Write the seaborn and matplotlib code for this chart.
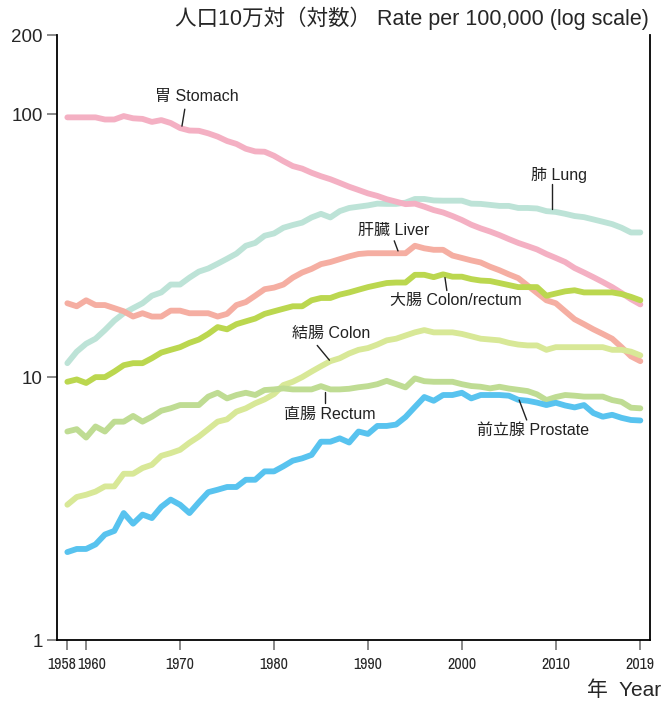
import numpy as np
import pandas as pd
import seaborn as sns
import matplotlib.pyplot as plt
from matplotlib import font_manager

years = list(range(1958, 2020))

stomach = [97.3, 97.3, 97.3, 97.3, 95.5, 95.5, 98.4, 96.5, 96.0, 93.5, 95.0, 92.6,
           88.6, 86.7, 86.5, 84.6, 82.2, 79.1, 77.1, 73.9, 72.2, 72.0,
           69.5, 66.3, 63.5, 62.1, 59.9, 58.1, 56.6, 54.8, 53.0, 51.5,
           50.0, 48.9, 47.5, 46.5, 45.5, 45.7, 44.5, 43.2, 42.3, 41.0,
           39.6, 38.0, 36.8, 35.8, 34.7, 33.5, 32.4, 31.5, 30.6, 29.4,
           28.4, 27.4, 26.0, 25.0, 24.0, 23.0, 22.0, 20.9, 19.8, 18.9]
lung = [11.3, 12.5, 13.4, 14.0, 15.1, 16.4, 17.5, 18.3, 19.1, 20.4, 21.0, 22.5,
        22.5, 23.9, 25.2, 25.9, 27.0, 28.2, 29.5, 31.6, 32.4, 34.5,
        35.2, 37.0, 37.9, 38.7, 40.5, 41.8, 40.5, 42.8, 44.0, 44.5,
        45.0, 45.7, 45.6, 45.6, 46.1, 47.6, 47.6, 47.0, 46.9, 46.9,
        46.9, 45.7, 45.6, 45.2, 44.8, 44.8, 44.0, 44.0, 43.8, 42.8,
        42.5, 41.8, 41.0, 40.6, 39.8, 39.0, 38.2, 37.0, 35.5, 35.5]
liver = [19.1, 18.6, 19.6, 18.8, 18.8, 18.3, 17.8, 17.0, 17.5, 17.0, 17.0, 17.9,
         17.9, 17.5, 17.5, 17.5, 17.0, 17.4, 18.8, 19.3, 20.4, 21.6,
         21.9, 22.5, 23.9, 25.0, 25.8, 26.9, 27.4, 28.1, 28.8, 29.4,
         29.6, 29.6, 29.6, 29.6, 29.6, 31.6, 30.9, 30.5, 30.5, 29.0,
         28.4, 27.8, 27.3, 26.3, 25.5, 24.6, 23.8, 22.3, 20.9, 19.6,
         19.1, 17.8, 16.6, 15.9, 15.2, 14.6, 14.0, 13.0, 12.0, 11.5]
colorectum = [9.6, 9.8, 9.5, 10.0, 10.0, 10.5, 11.1, 11.3, 11.3, 11.8, 12.4, 12.7,
              13.0, 13.5, 13.9, 14.6, 15.5, 15.2, 15.9, 16.3, 16.7, 17.4,
              17.8, 18.2, 18.6, 18.6, 19.6, 20.0, 20.0, 20.6, 21.0, 21.5,
              22.0, 22.4, 22.8, 22.9, 22.9, 24.5, 24.5, 24.0, 24.6, 24.1,
              24.1, 23.6, 23.3, 23.2, 22.8, 22.4, 22.0, 22.0, 22.0, 20.4,
              20.8, 21.2, 21.4, 21.0, 21.0, 21.0, 21.0, 20.7, 20.2, 19.6]
colon = [3.27, 3.50, 3.57, 3.67, 3.84, 3.84, 4.29, 4.29, 4.51, 4.64, 5.02, 5.14,
         5.29, 5.63, 5.94, 6.34, 6.77, 6.91, 7.39, 7.61, 7.95, 8.23,
         8.62, 9.33, 9.60, 10.0, 10.5, 11.0, 11.5, 11.8, 12.3, 12.7,
         12.9, 13.3, 13.8, 14.0, 14.4, 14.8, 15.1, 14.8, 14.8, 14.8,
         14.6, 14.3, 14.0, 13.9, 13.8, 13.5, 13.3, 13.2, 13.2, 12.7,
         13.0, 13.0, 13.0, 13.0, 13.0, 13.0, 12.7, 12.7, 12.5, 12.1]
rectum = [6.21, 6.34, 5.89, 6.49, 6.21, 6.77, 6.77, 7.12, 6.77, 7.07, 7.45, 7.61,
          7.83, 7.83, 7.83, 8.43, 8.72, 8.30, 8.55, 8.72, 8.55, 8.93,
          8.98, 9.06, 8.98, 8.98, 8.98, 9.24, 8.98, 8.98, 9.03, 9.15,
          9.24, 9.40, 9.68, 9.41, 9.14, 9.89, 9.65, 9.60, 9.60, 9.60,
          9.40, 9.25, 9.19, 9.06, 9.19, 9.05, 8.95, 8.85, 8.60, 8.18,
          8.40, 8.55, 8.50, 8.43, 8.43, 8.43, 8.18, 8.05, 7.65, 7.61]
prostate = [2.16, 2.22, 2.22, 2.31, 2.52, 2.60, 3.04, 2.77, 3.00, 2.91, 3.21, 3.42,
            3.27, 3.04, 3.34, 3.65, 3.73, 3.82, 3.82, 4.07, 4.07, 4.38,
            4.38, 4.58, 4.81, 4.91, 5.06, 5.68, 5.68, 5.85, 5.64, 6.21,
            6.08, 6.52, 6.52, 6.60, 7.05, 7.70, 8.40, 8.13, 8.55, 8.55,
            8.72, 8.30, 8.55, 8.55, 8.55, 8.50, 8.20, 8.13, 8.00, 7.83,
            7.99, 7.80, 7.67, 7.83, 7.30, 7.07, 7.19, 7.00, 6.87, 6.84]

series = {
    'Lung': lung,
    'Stomach': stomach,
    'Liver': liver,
    'Colon/rectum': colorectum,
    'Colon': colon,
    'Rectum': rectum,
    'Prostate': prostate,
}
colors = {
    'Lung': '#bde3d7',
    'Stomach': '#f4b0c3',
    'Liver': '#f5aea2',
    'Colon/rectum': '#bbd74f',
    'Colon': '#d8e897',
    'Rectum': '#bfdc93',
    'Prostate': '#58c3ef',
}

xticks = [1958, 1960, 1970, 1980, 1990, 2000, 2010, 2019]
xtick_labels = ['1958', '1960', '1970', '1980', '1990', '2000', '2010', '2019']

df = pd.concat([pd.DataFrame({'Year': years, 'Rate': v, 'Site': k})
                for k, v in series.items()], ignore_index=True)

sns.set_style('ticks')
plt.rcParams['font.family'] = ['Liberation Sans', 'Noto Sans CJK JP', 'DejaVu Sans']

# condensed face for the crowded year labels, if one is installed
names = sorted({f.name for f in font_manager.fontManager.ttflist})
narrow = [n for n in names if 'Narrow' in n or 'Condensed' in n]
tick_family = narrow[:1] + ['Liberation Sans']

fig = plt.figure(figsize=(6.63, 7.02), dpi=100)
ax = fig.add_axes([0.086, 0.0883, 0.894, 0.8617])

sns.lineplot(data=df, x='Year', y='Rate', hue='Site', palette=colors,
             hue_order=list(series.keys()), legend=False, linewidth=4.2,
             solid_capstyle='round', solid_joinstyle='round', ax=ax)

ax.set_yscale('log')
ax.set_ylim(1, 200)
ax.set_xlim(1956.9, 2020.0)
ax.set_yticks([1, 10, 100, 200])
ax.set_yticklabels(['1', '10', '100', '200'], fontsize=13.5)
ax.yaxis.set_minor_locator(plt.NullLocator())

# 1958 and 1960 sit too close for centred labels: nudge them apart by hand
ax.set_xticks(xticks)
ax.set_xticklabels([''] * 2 + xtick_labels[2:], fontsize=11.5, family=tick_family)
for lab, yr, dx in [(xtick_labels[0], xticks[0], -4.0), (xtick_labels[1], xticks[1], 4.2)]:
    ax.annotate(lab, xy=(yr, 0), xycoords=('data', 'axes fraction'),
                xytext=(dx, -12.4), textcoords='offset points',
                ha='center', va='top', fontsize=11.5, family=tick_family)

ax.tick_params(axis='both', direction='out', length=7.2, width=1.3, color='#808080')
ax.tick_params(axis='y', pad=3)
ax.tick_params(axis='x', pad=5)
ax.set_xlabel('')
ax.set_ylabel('')
ax.spines['top'].set_visible(False)
for s in ['left', 'bottom', 'right']:
    ax.spines[s].set_color('black')
    ax.spines[s].set_linewidth(1.3)

labels = [
    ('胃 Stomach', 1967.3, 116.5, 1970.5, 104.5, 1970.2, 90.1),
    ('肺 Lung', 2007.4, 58.5, 2009.6, 54.3, 2009.6, 43.6),
    ('肝臓 Liver', 1988.9, 36.2, 1992.8, 33.0, 1993.2, 30.2),
    ('大腸 Colon/rectum', 1992.3, 19.5, 1998.2, 23.9, 1998.4, 21.35),
    ('結腸 Colon', 1981.9, 14.6, 1984.6, 13.2, 1985.9, 11.6),
    ('直腸 Rectum', 1981.1, 7.21, 1985.4, 8.77, 1985.4, 7.97),
    ('前立腺 Prostate', 2001.6, 6.27, 2006.1, 8.18, 2006.9, 6.87),
]
for txt, tx, ty, x1, y1, x2, y2 in labels:
    ax.text(tx, ty, txt, fontsize=11.5, va='center', ha='left', color='#222222')
    ax.plot([x1, x2], [y1, y2], color='#222222', linewidth=1.0)

fig.text(0.979, 0.974, '人口10万対（対数） Rate per 100,000 (log scale)',
         ha='right', va='center', fontsize=15.5)
fig.text(0.886, 0.017, '年  Year', ha='left', va='center', fontsize=15)

fig.savefig('out.png', dpi=100)
